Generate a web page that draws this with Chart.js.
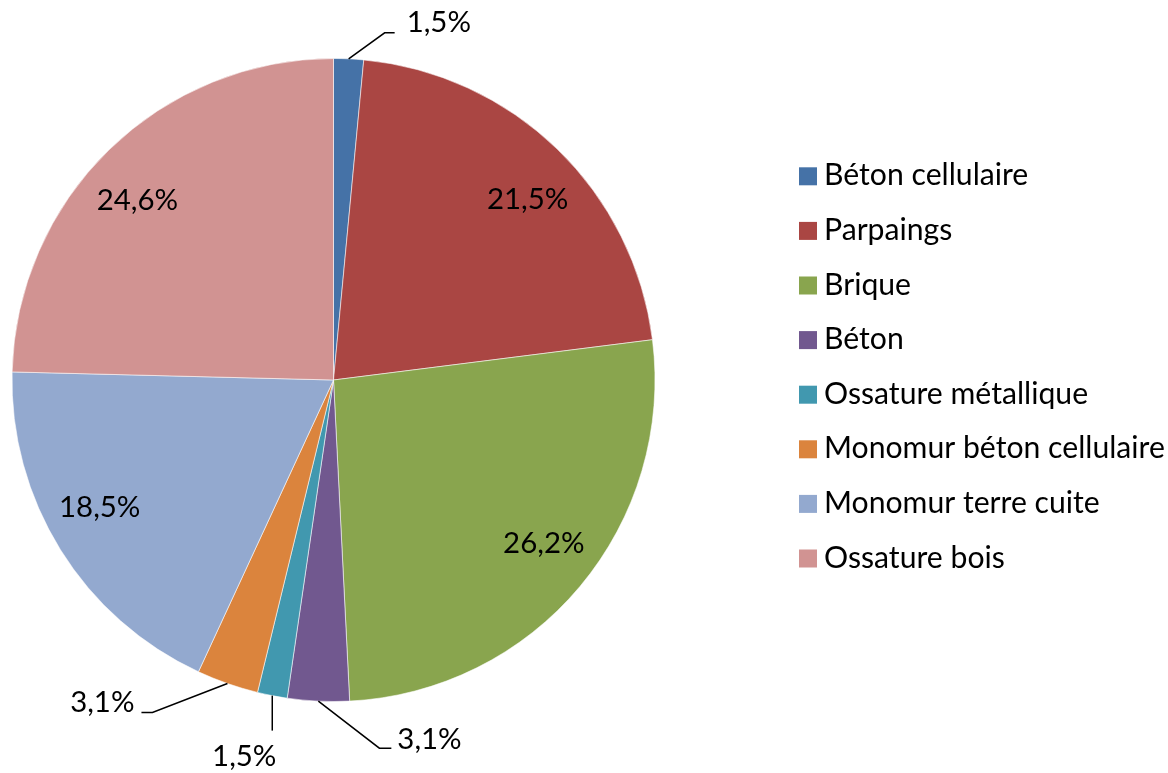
<!DOCTYPE html>
<html>
<head>
<meta charset="utf-8">
<script src="https://cdn.jsdelivr.net/npm/chart.js@4/dist/chart.umd.min.js"></script>
<style>
  html, body { margin: 0; padding: 0; background: #ffffff; }
  #wrap { width: 1168px; height: 773px; position: relative; }
</style>
</head>
<body>
<div id="wrap"><canvas id="c" width="1168" height="773"></canvas></div>
<script>
// ---- data ----
const categories = [
  "Béton cellulaire",
  "Parpaings",
  "Brique",
  "Béton",
  "Ossature métallique",
  "Monomur béton cellulaire",
  "Monomur terre cuite",
  "Ossature bois"
];
const shares = [1.5, 21.5, 26.2, 3.1, 1.5, 3.1, 18.5, 24.6];
const valueLabels = ["1,5%", "21,5%", "26,2%", "3,1%", "1,5%", "3,1%", "18,5%", "24,6%"];

// ---- styles ----
const sliceColors = ["#4572A7", "#AA4643", "#89A54E", "#71588F", "#4198AF", "#DB843D", "#93A9CF", "#D19392"];
const FONT = "Lato, 'Open Sans', sans-serif";
// leader-line styles for outside labels (null = label inside slice)
const leaderStyles = [
  { elbow: [36, -26], tail: 10, text: [12, -10], align: "left" },
  null,
  null,
  { elbow: [61, 47], tail: 12, text: [6, -9], align: "left" },
  { elbow: [0, 35], tail: 0, text: [-28, 26], align: "center" },
  { elbow: [-75, 29], tail: -11, text: [-7, -10], align: "right" },
  null,
  null
];
// small nudges of inside labels (best-fit placement)
const insideNudge = [null, [9.5, 10], [7, -7], null, null, null, [-8.5, -12], [-11, 10]];

function fitFont(ctx, sample, targetInk) {
  ctx.font = "100px " + FONT;
  const m = ctx.measureText(sample);
  const ink = m.actualBoundingBoxLeft + m.actualBoundingBoxRight;
  return 100 * targetInk / ink;
}

const labelPlugin = {
  id: "pieLabels",
  afterDatasetsDraw(chart) {
    const ctx = chart.ctx;
    const meta = chart.getDatasetMeta(0);
    const labelSize = fitFont(ctx, "24,6%", 79);
    ctx.save();
    ctx.font = labelSize + "px " + FONT;
    ctx.fillStyle = "#000000";
    ctx.textBaseline = "middle";
    meta.data.forEach((arc, i) => {
      const p = arc.getProps(["x", "y", "startAngle", "endAngle", "outerRadius"], true);
      const mid = (p.startAngle + p.endAngle) / 2;
      const st = leaderStyles[i];
      if (!st) {
        const d = p.outerRadius * 0.825;
        const n = insideNudge[i] || [0, 0];
        ctx.textAlign = "center";
        ctx.fillText(valueLabels[i], p.x + Math.cos(mid) * d + n[0], p.y + Math.sin(mid) * d + n[1]);
      } else {
        const ax = p.x + Math.cos(mid) * p.outerRadius;
        const ay = p.y + Math.sin(mid) * p.outerRadius;
        const ex = ax + st.elbow[0], ey = ay + st.elbow[1];
        const tx = ex + st.tail, ty = ey;
        ctx.beginPath();
        ctx.strokeStyle = "#000000";
        ctx.lineWidth = 1.5;
        ctx.moveTo(ax, ay);
        ctx.lineTo(ex, ey);
        ctx.lineTo(tx, ty);
        ctx.stroke();
        ctx.textAlign = st.align;
        ctx.fillText(valueLabels[i], tx + st.text[0], ty + st.text[1]);
      }
    });
    ctx.restore();
  }
};

const legendPlugin = {
  id: "sideLegend",
  afterDraw(chart) {
    const ctx = chart.ctx;
    const size = fitFont(ctx, "Monomur terre cuite", 272);
    const ds = chart.data.datasets[0];
    ctx.save();
    ctx.font = size + "px " + FONT;
    ctx.textAlign = "left";
    ctx.textBaseline = "alphabetic";
    chart.data.labels.forEach((lab, i) => {
      const top = 167.3 + 54.6 * i;
      ctx.fillStyle = ds.backgroundColor[i];
      ctx.fillRect(799, top, 18, 18);
      ctx.fillStyle = "#000000";
      ctx.fillText(lab, 824, top + 18);
    });
    ctx.restore();
  }
};

new Chart(document.getElementById("c"), {
  type: "pie",
  data: {
    labels: categories,
    datasets: [{
      data: shares,
      backgroundColor: sliceColors,
      borderColor: "rgba(255,255,255,0.55)",
      borderWidth: 1,
      hoverOffset: 0
    }]
  },
  options: {
    responsive: false,
    animation: false,
    events: [],
    radius: 321.5,
    layout: { padding: { left: 12, top: 58, right: 513, bottom: 71 } },
    plugins: {
      legend: { display: false },
      tooltip: { enabled: false },
      title: { display: false }
    }
  },
  plugins: [labelPlugin, legendPlugin]
});
</script>
</body>
</html>
